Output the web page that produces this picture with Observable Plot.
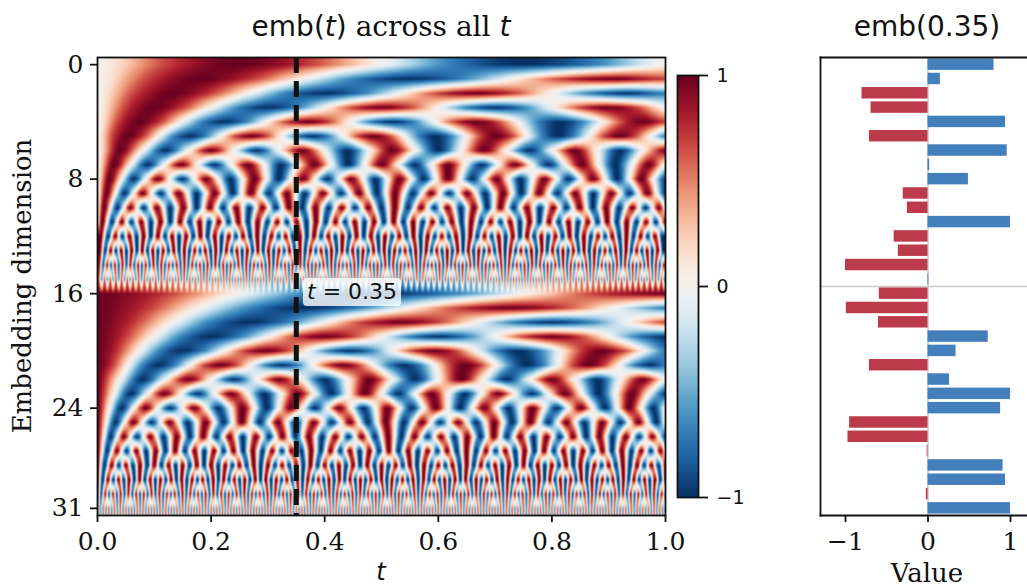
<!DOCTYPE html>
<html><head><meta charset="utf-8">
<script src="https://cdn.jsdelivr.net/npm/d3@7"></script>
<script src="https://cdn.jsdelivr.net/npm/@observablehq/plot@0.6"></script>
<style>
html,body{margin:0;padding:0;background:#fff;width:1027px;height:588px;overflow:hidden}
#root{position:relative;width:1027px;height:588px}
#root svg{position:absolute;top:0;background:transparent}
.t{position:absolute;white-space:nowrap;color:#111}
.sans{font-family:"DejaVu Sans"}
.serif{font-family:"DejaVu Serif"}
</style></head><body><div id="root"></div>
<script>
// Bar panel values (dimension 0 to 31)
const barValues=[.80,.15,-.80,-.69,.94,-.71,.96,.02,.49,-.30,-.25,1,-.41,-.36,-1,.01,
-.59,-.99,-.60,.73,.34,-.71,.26,1,.88,-.95,-.97,-.01,.91,.94,-.02,1];
const dimTicks=[0,8,16,24,31];
const tTicks=[0,.2,.4,.6,.8,1];
const valueTicks=[-1,0,1];
const colorTicks=[-1,0,1];

// Heatmap rows: hand-written, idealised estimates, not pixel samples. Each row's crest
// spacing was inferred from the picture and the bar values, then written out as a regular
// crest/zero sequence at even steps along t. Phase in the finest rows is approximate.
const dim00=[0,.7,1,.7,0,-.7,-1,-.7,0];
const dim01=[0,.7,1,.7,0,-.7,-1,-.7,0,.7,1,.7];
const dim02=[0,.7,1,.7,0,-.7,-1,-.7,0,.7,1,.7,0,-.7,-1,-.7];
const dim03=[0,.7,1,.7,0,-.7,-1,-.7,0,.7,1,.7,0,-.7,-1,-.7,0,.7,1,.7,0];
const dim04=[0,.7,1,.7,0,-.7,-1,-.7,0,.7,1,.7,0,-.7,-1,-.7,0,.7,1,.7,0,-.7,-1,-.7,0,.7,1,.7];
const dim05=[0,.7,1,.7,0,-.7,-1,-.7,0,.7,1,.7,0,-.7,-1,-.7,0,.7,1,.7,0,-.7,-1,-.7,0,.7,1,.7,0,-.7,-1,-.7,0,.7,1,.7,0,-.7];
const dim06=[0,1,0,-1,0,1,0,-1,0,1,0,-1,0,1,0,-1,0,1,0,-1,0,1,0,-1,0,1];
const dim07=[0,1,0,-1,0,1,0,-1,0,1,0,-1,0,1,0,-1,0,1,0,-1,0,1,0,-1,0,1,0,-1,0,1,0,-1,0,1,0];
const dim08=[0,1,0,-1,0,1,0,-1,0,1,0,-1,0,1,0,-1,0,1,0,-1,0,1,0,-1,0,1,0,-1,0,1,0,-1,0,1,0,-1,0,1,0,-1,0,1,0,-1,0,1,0,-1];
const dim09=[0,1,0,-1,0,1,0,-1,0,1,0,-1,0,1,0,-1,0,1,0,-1,0,1,0,-1,0,1,0,-1,0,1,0,-1,0,1,0,-1,0,1,0,-1,
0,1,0,-1,0,1,0,-1,0,1,0,-1,0,1,0,-1,0,1,0,-1,0,1,0,-1];
const dim10=[0,1,0,-1,0,1,0,-1,0,1,0,-1,0,1,0,-1,0,1,0,-1,0,1,0,-1,0,1,0,-1,0,1,0,-1,0,1,0,-1,0,1,0,-1,
0,1,0,-1,0,1,0,-1,0,1,0,-1,0,1,0,-1,0,1,0,-1,0,1,0,-1,0,1,0,-1,0,1,0,-1,0,1,0,-1,0,1,0,-1,0,1,0,-1,0,1,0];
const dim11=[0,1,0,-1,0,1,0,-1,0,1,0,-1,0,1,0,-1,0,1,0,-1,0,1,0,-1,0,1,0,-1,0,1,0,-1,0,1,0,-1,0,1,0,-1,
0,1,0,-1,0,1,0,-1,0,1,0,-1,0,1,0,-1,0,1,0,-1,0,1,0,-1,0,1,0,-1,0,1,0,-1,0,1,0,-1,0,1,0,-1,
0,1,0,-1,0,1,0,-1,0,1,0,-1,0,1,0,-1,0,1,0,-1,0,1,0,-1,0,1,0,-1,0,1,0,-1,0,1,0,-1,0,1];
const dim12=[1,-1,1,-1,1,-1,1,-1,1,-1,1,-1,1,-1,1,-1,1,-1,1,-1,1,-1,1,-1,1,-1,1,-1,1,-1,1,-1,1,-1,1,-1,1,-1,1,-1,
1,-1,1,-1,1,-1,1,-1,1,-1,1,-1,1,-1,1,-1,1,-1,1,-1,1,-1,1,-1,1,-1,1,-1,1,-1,1,-1,1,-1,1,-1,1,-1,1,-1];
const dim13=[1,-1,1,-1,1,-1,1,-1,1,-1,1,-1,1,-1,1,-1,1,-1,1,-1,1,-1,1,-1,1,-1,1,-1,1,-1,1,-1,1,-1,1,-1,1,-1,1,-1,
1,-1,1,-1,1,-1,1,-1,1,-1,1,-1,1,-1,1,-1,1,-1,1,-1,1,-1,1,-1,1,-1,1,-1,1,-1,1,-1,1,-1,1,-1,1,-1,1,-1,
1,-1,1,-1,1,-1,1,-1,1,-1,1,-1,1,-1,1,-1,1,-1,1,-1,1,-1,1,-1,1,-1,1,-1];
const dim14=[.85,-.85,.85,-.85,.85,-.85,.85,-.85,.85,-.85,.85,-.85,.85,-.85,.85,-.85,.85,-.85,.85,-.85,.85,-.85,.85,-.85,.85,-.85,.85,-.85,.85,-.85,.85,-.85,.85,-.85,.85,-.85,.85,-.85,.85,-.85,
.85,-.85,.85,-.85,.85,-.85,.85,-.85,.85,-.85,.85,-.85,.85,-.85,.85,-.85,.85,-.85,.85,-.85,.85,-.85,.85,-.85,.85,-.85,.85,-.85,.85,-.85,.85,-.85,.85,-.85,.85,-.85,.85,-.85,.85,-.85,
.85,-.85,.85,-.85,.85,-.85,.85,-.85,.85,-.85,.85,-.85,.85,-.85,.85,-.85,.85,-.85,.85,-.85,.85,-.85,.85,-.85,.85,-.85,.85,-.85,.85,-.85,.85,-.85,.85,-.85,.85,-.85,.85,-.85,.85,-.85,
.85,-.85,.85,-.85,.85,-.85,.85,-.85,.85,-.85,.85,-.85,.85,-.85,.85,-.85,.85,-.85,.85,-.85,.85,-.85,.85,-.85,.85,-.85,.85];
const dim15=[.6,-.6,.6,-.6,.6,-.6,.6,-.6,.6,-.6,.6,-.6,.6,-.6,.6,-.6,.6,-.6,.6,-.6,.6,-.6,.6,-.6,.6,-.6,.6,-.6,.6,-.6,.6,-.6,.6,-.6,.6,-.6,.6,-.6,.6,-.6,
.6,-.6,.6,-.6,.6,-.6,.6,-.6,.6,-.6,.6,-.6,.6,-.6,.6,-.6,.6,-.6,.6,-.6,.6,-.6,.6,-.6,.6,-.6,.6,-.6,.6,-.6,.6,-.6,.6,-.6,.6,-.6,.6,-.6,.6,-.6,
.6,-.6,.6,-.6,.6,-.6,.6,-.6,.6,-.6,.6,-.6,.6,-.6,.6,-.6,.6,-.6,.6,-.6,.6,-.6,.6,-.6,.6,-.6,.6,-.6,.6,-.6,.6,-.6,.6,-.6,.6,-.6,.6,-.6,.6,-.6,
.6,-.6,.6,-.6,.6,-.6,.6,-.6,.6,-.6,.6,-.6,.6,-.6,.6,-.6,.6,-.6,.6,-.6,.6,-.6,.6,-.6,.6,-.6,.6,-.6,.6,-.6,.6,-.6,.6,-.6,.6,-.6,.6,-.6,.6,-.6,
.6,-.6,.6,-.6,.6,-.6,.6,-.6,.6,-.6,.6,-.6,.6,-.6,.6,-.6,.6,-.6,.6,-.6,.6,-.6,.6,-.6,.6,-.6,.6,-.6,.6,-.6,.6,-.6,.6,-.6,.6,-.6,.6,-.6,.6,-.6];
const dim16=[1,.7,0,-.7,-1,-.7,0,.7,1];
const dim17=[1,.7,0,-.7,-1,-.7,0,.7,1,.7,0,-.7];
const dim18=[1,.7,0,-.7,-1,-.7,0,.7,1,.7,0,-.7,-1,-.7,0,.7];
const dim19=[1,.7,0,-.7,-1,-.7,0,.7,1,.7,0,-.7,-1,-.7,0,.7,1,.7,0,-.7,-1];
const dim20=[1,.7,0,-.7,-1,-.7,0,.7,1,.7,0,-.7,-1,-.7,0,.7,1,.7,0,-.7,-1,-.7,0,.7,1,.7,0,-.7];
const dim21=[1,.7,0,-.7,-1,-.7,0,.7,1,.7,0,-.7,-1,-.7,0,.7,1,.7,0,-.7,-1,-.7,0,.7,1,.7,0,-.7,-1,-.7,0,.7,1,.7,0,-.7,-1,-.7];
const dim22=[1,0,-1,0,1,0,-1,0,1,0,-1,0,1,0,-1,0,1,0,-1,0,1,0,-1,0,1,0];
const dim23=[1,0,-1,0,1,0,-1,0,1,0,-1,0,1,0,-1,0,1,0,-1,0,1,0,-1,0,1,0,-1,0,1,0,-1,0,1,0,-1];
const dim24=[1,0,-1,0,1,0,-1,0,1,0,-1,0,1,0,-1,0,1,0,-1,0,1,0,-1,0,1,0,-1,0,1,0,-1,0,1,0,-1,0,1,0,-1,0,1,0,-1,0,1,0,-1,0];
const dim25=[1,0,-1,0,1,0,-1,0,1,0,-1,0,1,0,-1,0,1,0,-1,0,1,0,-1,0,1,0,-1,0,1,0,-1,0,1,0,-1,0,1,0,-1,0,
1,0,-1,0,1,0,-1,0,1,0,-1,0,1,0,-1,0,1,0,-1,0,1,0,-1,0];
const dim26=[1,0,-1,0,1,0,-1,0,1,0,-1,0,1,0,-1,0,1,0,-1,0,1,0,-1,0,1,0,-1,0,1,0,-1,0,1,0,-1,0,1,0,-1,0,
1,0,-1,0,1,0,-1,0,1,0,-1,0,1,0,-1,0,1,0,-1,0,1,0,-1,0,1,0,-1,0,1,0,-1,0,1,0,-1,0,1,0,-1,0,1,0,-1,0,1,0,-1];
const dim27=[1,0,-1,0,1,0,-1,0,1,0,-1,0,1,0,-1,0,1,0,-1,0,1,0,-1,0,1,0,-1,0,1,0,-1,0,1,0,-1,0,1,0,-1,0,
1,0,-1,0,1,0,-1,0,1,0,-1,0,1,0,-1,0,1,0,-1,0,1,0,-1,0,1,0,-1,0,1,0,-1,0,1,0,-1,0,1,0,-1,0,
1,0,-1,0,1,0,-1,0,1,0,-1,0,1,0,-1,0,1,0,-1,0,1,0,-1,0,1,0,-1,0,1,0,-1,0,1,0,-1,0,1,0];
const dim28=[1,-1,1,-1,1,-1,1,-1,1,-1,1,-1,1,-1,1,-1,1,-1,1,-1,1,-1,1,-1,1,-1,1,-1,1,-1,1,-1,1,-1,1,-1,1,-1,1,-1,
1,-1,1,-1,1,-1,1,-1,1,-1,1,-1,1,-1,1,-1,1,-1,1,-1,1,-1,1,-1,1,-1,1,-1,1,-1,1,-1,1,-1,1,-1,1,-1,1,-1,1];
const dim29=[1,-1,1,-1,1,-1,1,-1,1,-1,1,-1,1,-1,1,-1,1,-1,1,-1,1,-1,1,-1,1,-1,1,-1,1,-1,1,-1,1,-1,1,-1,1,-1,1,-1,
1,-1,1,-1,1,-1,1,-1,1,-1,1,-1,1,-1,1,-1,1,-1,1,-1,1,-1,1,-1,1,-1,1,-1,1,-1,1,-1,1,-1,1,-1,1,-1,1,-1,
1,-1,1,-1,1,-1,1,-1,1,-1,1,-1,1,-1,1,-1,1,-1,1,-1,1,-1,1,-1,1,-1,1,-1,1];
const dim30=[.85,-.85,.85,-.85,.85,-.85,.85,-.85,.85,-.85,.85,-.85,.85,-.85,.85,-.85,.85,-.85,.85,-.85,.85,-.85,.85,-.85,.85,-.85,.85,-.85,.85,-.85,.85,-.85,.85,-.85,.85,-.85,.85,-.85,.85,-.85,
.85,-.85,.85,-.85,.85,-.85,.85,-.85,.85,-.85,.85,-.85,.85,-.85,.85,-.85,.85,-.85,.85,-.85,.85,-.85,.85,-.85,.85,-.85,.85,-.85,.85,-.85,.85,-.85,.85,-.85,.85,-.85,.85,-.85,.85,-.85,
.85,-.85,.85,-.85,.85,-.85,.85,-.85,.85,-.85,.85,-.85,.85,-.85,.85,-.85,.85,-.85,.85,-.85,.85,-.85,.85,-.85,.85,-.85,.85,-.85,.85,-.85,.85,-.85,.85,-.85,.85,-.85,.85,-.85,.85,-.85,
.85,-.85,.85,-.85,.85,-.85,.85,-.85,.85,-.85,.85,-.85,.85,-.85,.85,-.85,.85,-.85,.85,-.85,.85,-.85,.85,-.85,.85,-.85,.85,-.85];
const dim31=[.6,-.6,.6,-.6,.6,-.6,.6,-.6,.6,-.6,.6,-.6,.6,-.6,.6,-.6,.6,-.6,.6,-.6,.6,-.6,.6,-.6,.6,-.6,.6,-.6,.6,-.6,.6,-.6,.6,-.6,.6,-.6,.6,-.6,.6,-.6,
.6,-.6,.6,-.6,.6,-.6,.6,-.6,.6,-.6,.6,-.6,.6,-.6,.6,-.6,.6,-.6,.6,-.6,.6,-.6,.6,-.6,.6,-.6,.6,-.6,.6,-.6,.6,-.6,.6,-.6,.6,-.6,.6,-.6,.6,-.6,
.6,-.6,.6,-.6,.6,-.6,.6,-.6,.6,-.6,.6,-.6,.6,-.6,.6,-.6,.6,-.6,.6,-.6,.6,-.6,.6,-.6,.6,-.6,.6,-.6,.6,-.6,.6,-.6,.6,-.6,.6,-.6,.6,-.6,.6,-.6,
.6,-.6,.6,-.6,.6,-.6,.6,-.6,.6,-.6,.6,-.6,.6,-.6,.6,-.6,.6,-.6,.6,-.6,.6,-.6,.6,-.6,.6,-.6,.6,-.6,.6,-.6,.6,-.6,.6,-.6,.6,-.6,.6,-.6,.6,-.6,
.6,-.6,.6,-.6,.6,-.6,.6,-.6,.6,-.6,.6,-.6,.6,-.6,.6,-.6,.6,-.6,.6,-.6,.6,-.6,.6,-.6,.6,-.6,.6,-.6,.6,-.6,.6,-.6,.6,-.6,.6,-.6,.6,-.6,.6,-.6,.6];

const rows=[dim00,dim01,dim02,dim03,dim04,dim05,dim06,dim07,dim08,dim09,dim10,dim11,dim12,dim13,dim14,dim15,
dim16,dim17,dim18,dim19,dim20,dim21,dim22,dim23,dim24,dim25,dim26,dim27,dim28,dim29,dim30,dim31];
const midCrestRows=[12,13,14,15]; // rows listed crest by crest, the first crest half a step in

// Image-style resampling of the rows above: smooth along a row, linear between rows
function readRow(d,t){
  const row=rows[d];
  const s=midCrestRows.includes(d)?t*row.length-.5:t*(row.length-1);
  const n=row.length-1;
  const p=Math.max(0,Math.min(n,s));
  const i=Math.min(n-1,Math.floor(p)),f=p-i;
  const a=row[i],b=row[i+1];
  const m0=(b-row[Math.max(0,i-1)])/2,m1=(row[Math.min(n,i+2)]-a)/2;
  const f2=f*f,f3=f2*f;
  return (2*f3-3*f2+1)*a+(f3-2*f2+f)*m0+(-2*f3+3*f2)*b+(f3-f2)*m1;
}
function readCell(t,y){
  const p=Math.max(0,Math.min(31,y));
  const d=Math.min(30,Math.floor(p)),f=p-d;
  return readRow(d,t)*(1-f)+readRow(d+1,t)*f;
}

const bars=barValues.map((v,d)=>({v,d}));
const root=document.getElementById("root");
const black="#111";
const serif="DejaVu Serif", sans="DejaVu Sans";
const tickStyle={tickSize:7,fontSize:25,fontFamily:serif,stroke:black,strokeWidth:1.8,color:black,label:null};

const heat=Plot.plot({
  width:700,height:588,marginLeft:97,marginRight:35,marginTop:57,marginBottom:73,
  style:{background:"transparent",overflow:"visible"},
  x:{domain:[0,1]},
  y:{domain:[-.5,31.5],reverse:true},
  color:{type:"linear",domain:[-1,1],scheme:"RdBu",reverse:true},
  marks:[
    Plot.raster({fill:readCell,x1:0,x2:1,y1:-.5,y2:31.5,pixelSize:1}),
    Plot.ruleX([.35],{stroke:black,strokeWidth:5,strokeDasharray:"16 8"}),
    Plot.frame({stroke:black,strokeWidth:1.8}),
    Plot.axisX({...tickStyle,tickPadding:10,ticks:tTicks,tickFormat:d3.format(".1f")}),
    Plot.axisY({...tickStyle,tickPadding:7,ticks:dimTicks,tickFormat:d=>d})
  ]
});
heat.style.left="0px";root.append(heat);

const bar=Plot.plot({
  width:227,height:588,marginLeft:20,marginRight:0,marginTop:57,marginBottom:73,
  style:{background:"transparent",overflow:"hidden"},
  x:{domain:[-1.303,1.206]},
  y:{domain:[-.5,31.5],reverse:true,axis:null},
  marks:[
    Plot.ruleX([0],{stroke:"#ccc",strokeWidth:1.5}),
    Plot.ruleY([15.5],{stroke:"#ccc",strokeWidth:1.5}),
    Plot.rectX(bars,{x1:0,x2:"v",y1:d=>d.d-.4,y2:d=>d.d+.4,fill:d=>d.v<0?"#bc3b4b":"#437fbb"}),
    Plot.frame({anchor:"left",stroke:black,strokeWidth:1.8}),
    Plot.frame({anchor:"top",stroke:black,strokeWidth:1.8}),
    Plot.frame({anchor:"bottom",stroke:black,strokeWidth:1.8}),
    Plot.axisX({...tickStyle,tickPadding:10,ticks:valueTicks,tickFormat:d3.format("d")})
  ]
});
bar.style.left="800px";root.append(bar);

const cbar=Plot.plot({
  width:100,height:588,marginLeft:12,marginRight:67,marginTop:75,marginBottom:91,
  style:{background:"transparent"},
  x:{domain:[0,1],axis:null},
  y:{domain:[-1,1]},
  color:{type:"linear",domain:[-1,1],scheme:"RdBu",reverse:true},
  marks:[
    Plot.raster({fill:(x,y)=>y,x1:0,x2:1,y1:-1,y2:1,pixelSize:1}),
    Plot.frame({stroke:black,strokeWidth:1.8}),
    Plot.axisY({anchor:"right",ticks:colorTicks,tickFormat:d3.format("d"),label:null,tickSize:9,tickPadding:9,fontSize:19,fontFamily:sans,stroke:black,strokeWidth:1.8,color:black})
  ]
});
cbar.style.left="665px";root.append(cbar);

function label(html,css,cls){
  const e=document.createElement("div");e.className="t "+cls;e.innerHTML=html;
  e.style.cssText+=css;root.append(e);return e;
}
label('emb(<i>t</i>) <span class="serif">across all</span> <i>t</i>','left:381px;top:10px;font-size:28px;transform:translateX(-50%)','sans');
label('emb(0.35)','left:927px;top:10px;font-size:28px;transform:translateX(-50%)','sans');
label('Embedding dimension','left:22px;top:286px;font-size:26px;transform:translate(-50%,-50%) rotate(-90deg)','serif');
label('<i>t</i>','left:381px;top:561px;font-size:24px;line-height:22px;transform:translateX(-50%)','sans');
label('Value','left:927px;top:561px;font-size:26px;line-height:24px;transform:translateX(-50%)','serif');
label('<i>t</i> = 0.35','left:303px;top:278px;padding:0 4px;line-height:28px;font-size:22px;background:rgba(255,255,255,.8);border-radius:4px','sans');
</script></body></html>
